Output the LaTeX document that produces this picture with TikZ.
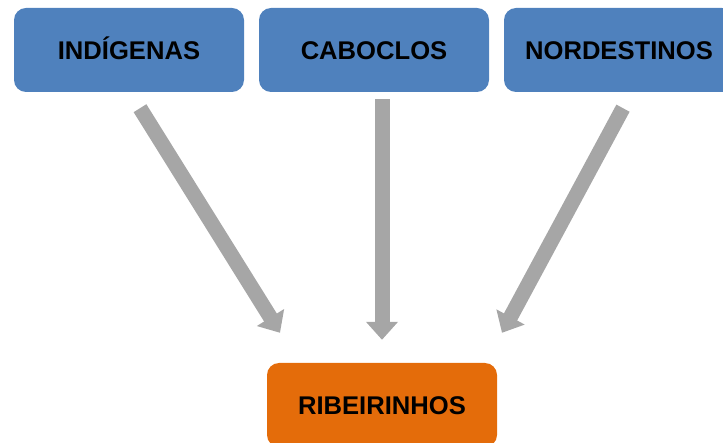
\documentclass[tikz,border=0pt]{standalone}
\usepackage{fontspec}
\setmainfont{Liberation Sans}
\usepackage{tikz}
\usetikzlibrary{arrows.meta}
\definecolor{groupblue}{HTML}{4F81BD}
\definecolor{riverorange}{HTML}{E46C0A}
\definecolor{flowgray}{HTML}{A6A6A6}

\begin{document}
\begin{tikzpicture}[x=1pt, y=-1pt,
		group/.style={fill=groupblue, rounded corners=12pt, minimum width=230pt, minimum height=84pt, inner sep=0pt, text height=18.4pt, text depth=0pt, font=\fontsize{25.6}{30}\selectfont\bfseries},
		flow/.style={draw=flowgray, line width=15pt, -{Triangle[width=31pt,length=18pt]}}]
				\useasboundingbox (0,0) rectangle (723,443);
				\node[group] (ind) at (129,50) {INDÍGENAS};
				\node[group] (cab) at (374,50) {CABOCLOS};
				\node[group] (nor) at (619,50) {NORDESTINOS};
				\node[group, fill=riverorange] (rib) at (382,405) {RIBEIRINHOS};
				\draw[flow] ([shift={(11,16)}]ind.south) -- ([shift={(-102,-30)}]rib.north);
				\draw[flow] ([shift={(8,7)}]cab.south) -- ([shift={(0,-23)}]rib.north);
				\draw[flow] ([shift={(4,16)}]nor.south) -- ([shift={(120,-30)}]rib.north);
			\end{tikzpicture}
\end{document}
